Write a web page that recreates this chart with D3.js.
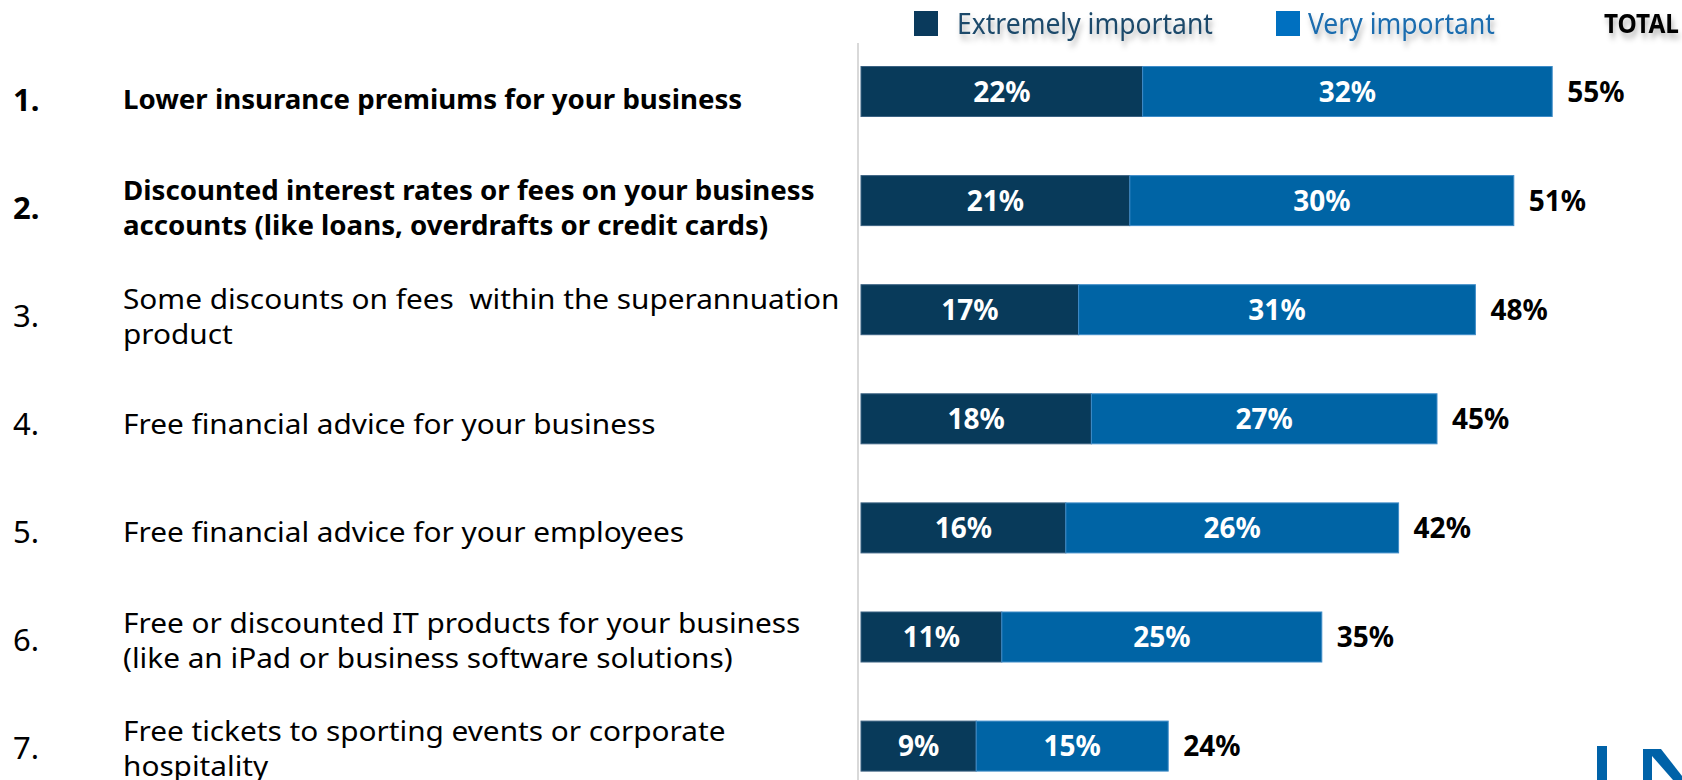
<!DOCTYPE html>
<html>
<head>
<meta charset="utf-8">
<script src="https://cdn.jsdelivr.net/npm/d3@7/dist/d3.min.js"></script>
<style>
  html, body { margin: 0; padding: 0; background: #fff; }
  svg { display: block; }
  text { font-family: "Noto Sans", "Open Sans", sans-serif; white-space: pre; }
</style>
</head>
<body>
<svg id="chart" width="1682" height="780"></svg>
<script>
// Survey items, ranked by total importance
const categories = [
  "Lower insurance premiums for your business",
  "Discounted interest rates or fees on your business\naccounts (like loans, overdrafts or credit cards)",
  "Some discounts on fees  within the superannuation\nproduct",
  "Free financial advice for your business",
  "Free financial advice for your employees",
  "Free or discounted IT products for your business\n(like an iPad or business software solutions)",
  "Free tickets to sporting events or corporate\nhospitality"
];
const ranks = ["1.", "2.", "3.", "4.", "5.", "6.", "7."];
const extremelyImportant = [22, 21, 17, 18, 16, 11, 9];
const veryImportant = [32, 30, 31, 27, 26, 25, 15];
const totals = [55, 51, 48, 45, 42, 35, 24];
const seriesNames = ["Extremely important", "Very important"];
const totalHeader = "TOTAL";

const W = 1682, H = 780;
const svg = d3.select("#chart");

const barColors = ["#083a5a", "#0064a5"];
const barEdges = ["#3b6282", "#3f8cc8"];
const legendSwatch = ["#0a3a5c", "#0070c0"];
const legendText = ["#1d4a6b", "#1a6cae"];

// drop shadow used by the legend header texts
const defs = svg.append("defs");
const f = defs.append("filter").attr("id", "shadow")
  .attr("x", "-10%").attr("y", "-40%").attr("width", "120%").attr("height", "200%");
f.append("feDropShadow").attr("dx", 2).attr("dy", 5).attr("stdDeviation", 3)
  .attr("flood-color", "#000").attr("flood-opacity", 0.3);

// rows as records for stacking
const rows = categories.map((c, i) => ({
  key: c, rank: ranks[i],
  [seriesNames[0]]: extremelyImportant[i],
  [seriesNames[1]]: veryImportant[i],
  total: totals[i]
}));

const x = d3.scaleLinear().domain([0, 55]).range([861, 861 + 55 * 12.8]);
const y = d3.scaleBand().domain(categories).range([66, 771.6])
  .paddingInner(0.5325).paddingOuter(0);
const yLabel = d3.scalePoint().domain(categories).range([100, 748]);

const stacked = d3.stack().keys(seriesNames)(rows);

// vertical baseline
svg.append("line")
  .attr("x1", 858).attr("x2", 858).attr("y1", 43).attr("y2", H)
  .attr("stroke", "#d9d9d9").attr("stroke-width", 2);

// stacked bars
const layer = svg.append("g").selectAll("g").data(stacked).join("g")
  .attr("fill", (d, i) => barColors[i])
  .attr("stroke", (d, i) => barEdges[i])
  .attr("stroke-width", 1);

layer.selectAll("rect").data(d => d).join("rect")
  .attr("x", d => x(d[0]))
  .attr("y", d => y(d.data.key) + 0.5)
  .attr("width", d => x(d[1]) - x(d[0]))
  .attr("height", y.bandwidth() - 1);

// segment value labels
const segLabels = svg.append("g");
stacked.forEach(s => {
  segLabels.selectAll(null).data(s).join("text")
    .attr("x", d => (x(d[0]) + x(d[1])) / 2)
    .attr("y", d => y(d.data.key) + y.bandwidth() / 2)
    .attr("dy", "0.36em")
    .attr("text-anchor", "middle")
    .attr("fill", "#fff")
    .attr("font-weight", 700)
    .attr("font-size", 28)
    .text(d => (d[1] - d[0]) + "%");
});

// totals at bar end
svg.append("g").selectAll("text").data(rows).join("text")
  .attr("x", d => x(d[seriesNames[0]] + d[seriesNames[1]]) + 15)
  .attr("y", d => y(d.key) + y.bandwidth() / 2)
  .attr("dy", "0.36em")
  .attr("fill", "#000")
  .attr("font-weight", 700)
  .attr("font-size", 28)
  .text(d => d.total + "%");

// left-hand rank numbers and item texts
const isBold = i => i < 2;
const labelX = 123, lineGap = 35;

const numG = svg.append("g");
rows.forEach((r, i) => {
  numG.append("text")
    .attr("x", 13).attr("y", yLabel(r.key)).attr("dy", "0.36em")
    .attr("font-size", 31)
    .attr("font-weight", isBold(i) ? 700 : 400)
    .attr("fill", "#000")
    .text(r.rank);
});

const itemG = svg.append("g");
const lineNodes = { bold: [], regular: [] };
rows.forEach((r, i) => {
  const lines = r.key.split("\n");
  const g = itemG.append("g").attr("class", isBold(i) ? "bold" : "regular")
    .attr("data-cy", yLabel(r.key));
  lines.forEach((ln, j) => {
    const off = (j - (lines.length - 1) / 2) * lineGap;
    const t = g.append("text")
      .attr("x", 0).attr("y", off).attr("dy", "0.36em")
      .attr("font-size", isBold(i) ? 26 : 28)
      .attr("font-weight", isBold(i) ? 700 : 400)
      .attr("fill", "#000")
      .text(ln);
    lineNodes[isBold(i) ? "bold" : "regular"].push(t.node());
  });
});

// fit the item column: longest bold line to 692px, longest regular line to 717px
const maxLen = nodes => d3.max(nodes, n => n.getComputedTextLength());
const kBold = 692 / maxLen(lineNodes.bold);
const kReg = 717 / maxLen(lineNodes.regular);
itemG.selectAll("g").attr("transform", function () {
  const k = this.getAttribute("class") === "bold" ? kBold : kReg;
  return `translate(${labelX},${this.getAttribute("data-cy")}) scale(${k},1)`;
});

// legend: the first entry's text is fitted to 256px, the second shares its scale
const legendPos = [{ sx: 914, tx: 957 }, { sx: 1276, tx: 1308 }];
const lg = svg.append("g");
const legendTexts = seriesNames.map((name, i) => {
  lg.append("rect")
    .attr("x", legendPos[i].sx).attr("y", 11)
    .attr("width", 24).attr("height", 25)
    .attr("fill", legendSwatch[i]);
  return lg.append("text")
    .attr("font-size", 29)
    .attr("fill", legendText[i])
    .attr("filter", "url(#shadow)")
    .text(name);
});
const kLegend = 256 / legendTexts[0].node().getComputedTextLength();
legendTexts.forEach((t, i) =>
  t.attr("transform", `translate(${legendPos[i].tx},34) scale(${kLegend},1)`));

// column header over the totals, kept inside the right edge
const totalText = lg.append("text")
  .attr("font-size", 26).attr("font-weight", 700)
  .attr("fill", "#000")
  .attr("filter", "url(#shadow)")
  .text(totalHeader);
const kTotal = Math.min(1, 75 / totalText.node().getComputedTextLength());
totalText.attr("transform", `translate(1604,33) scale(${kTotal},1)`);

// corner logo fragment
const logo = svg.append("g").attr("fill", "#0062a8");
logo.append("rect").attr("x", 1597).attr("y", 746).attr("width", 10).attr("height", 34);
logo.append("rect").attr("x", 1643).attr("y", 749).attr("width", 9).attr("height", 31);
logo.append("polygon").attr("points", "1652,749 1661,749 1682,776 1682,780 1673,780 1652,756");
</script>
</body>
</html>
